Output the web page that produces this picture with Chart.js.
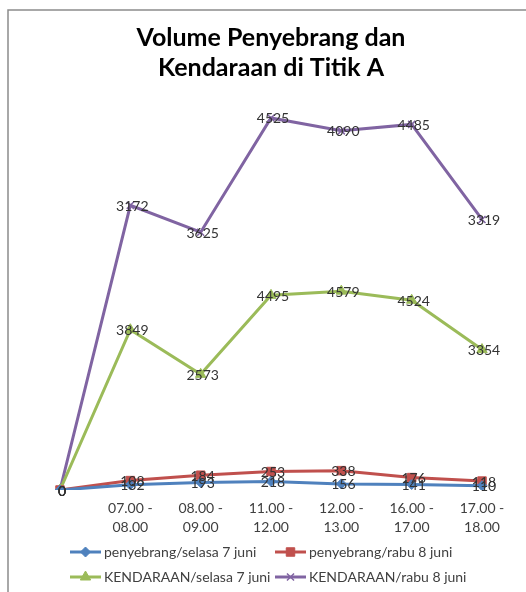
<!DOCTYPE html>
<html>
<head>
<meta charset="utf-8">
<title>Volume Penyebrang dan Kendaraan di Titik A</title>
<script src="https://cdn.jsdelivr.net/npm/chart.js@4/dist/chart.umd.min.js"></script>
<style>
    body { margin: 0; background: #fff; }
    canvas { display: block; }
</style>
</head>
<body>
<canvas id="volumeChart" width="526" height="592"></canvas>
<script>
// time slots (first slot is the empty start point)
const timeLabels = ['', ['07.00 -', '08.00'], ['08.00 -', '09.00'], ['11.00 -', '12.00'],
    ['12.00 -', '13.00'], ['16.00 -', '17.00'], ['17.00 -', '18.00']];

const penyebrangSelasa = [0, 132, 193, 218, 156, 141, 110];
const penyebrangRabu = [0, 108, 184, 253, 338, 176, 118];
const kendaraanSelasa = [0, 3849, 2573, 4495, 4579, 4524, 3354];
const kendaraanRabu = [0, 3172, 3625, 4525, 4090, 4485, 3319];

const seriesNames = ['penyebrang/selasa 7 juni', 'penyebrang/rabu 8 juni',
    'KENDARAAN/selasa 7 juni', 'KENDARAAN/rabu 8 juni'];

const blue = '#4f81bd';
const red = '#c0504d';
const green = '#9bbb59';
const purple = '#8064a2';
const textGray = '#404040';

function makeSeries(name, values, color, style, radius) {
    return {
        label: name,
        data: values,
        borderColor: color,
        backgroundColor: color,
        borderWidth: 3,
        pointStyle: style,
        pointRadius: radius,
        pointBorderWidth: style === 'crossRot' ? 1.5 : 1,
        pointBorderColor: color,
        pointBackgroundColor: color,
        tension: 0,
        fill: false
    };
}

// outer border of the chart box (top and left edges)
const frameLines = {
    id: 'frameLines',
    beforeDraw(chart) {
        const ctx = chart.ctx;
        ctx.save();
        ctx.strokeStyle = '#8c8c8c';
        ctx.lineWidth = 1.5;
        ctx.beginPath();
        ctx.moveTo(8, 592);
        ctx.lineTo(8, 10);
        ctx.lineTo(526, 10);
        ctx.stroke();
        ctx.restore();
    }
};

// value labels centred on each point
const pointValues = {
    id: 'pointValues',
    afterDatasetsDraw(chart) {
        const ctx = chart.ctx;
        ctx.save();
        ctx.font = '14px Lato';
        ctx.fillStyle = '#333';
        ctx.textAlign = 'center';
        ctx.textBaseline = 'middle';
        chart.data.datasets.forEach((ds, i) => {
            chart.getDatasetMeta(i).data.forEach((pt, j) => {
                ctx.fillText(String(ds.data[j]), pt.x + 2, pt.y + 1);
            });
        });
        ctx.restore();
    }
};

// two-column legend below the axis
const gridLegend = {
    id: 'gridLegend',
    afterDraw(chart) {
        const ctx = chart.ctx;
        const cols = [70, 275];
        const rows = [552, 577];
        ctx.save();
        ctx.font = '14px Lato';
        ctx.textBaseline = 'middle';
        chart.data.datasets.forEach((ds, i) => {
            const x = cols[i % 2];
            const y = rows[Math.floor(i / 2)];
            ctx.strokeStyle = ds.borderColor;
            ctx.fillStyle = ds.backgroundColor;
            ctx.lineWidth = 3;
            ctx.beginPath();
            ctx.moveTo(x, y);
            ctx.lineTo(x + 31, y);
            ctx.stroke();
            ctx.lineWidth = ds.pointBorderWidth;
            Chart.helpers.drawPoint(ctx, {
                pointStyle: ds.pointStyle,
                radius: ds.pointRadius,
                rotation: 0,
                borderWidth: ds.pointBorderWidth
            }, x + 15.5, y);
            ctx.fillStyle = textGray;
            ctx.fillText(ds.label, x + 34, y);
        });
        ctx.restore();
    }
};

new Chart(document.getElementById('volumeChart'), {
    type: 'line',
    data: {
        labels: timeLabels,
        datasets: [
            makeSeries(seriesNames[0], penyebrangSelasa, blue, 'rectRot', 5),
            makeSeries(seriesNames[1], penyebrangRabu, red, 'rect', 6),
            makeSeries(seriesNames[2], kendaraanSelasa, green, 'triangle', 6),
            makeSeries(seriesNames[3], kendaraanRabu, purple, 'crossRot', 5)
        ]
    },
    options: {
        responsive: false,
        animation: false,
        layout: { padding: { left: 60, right: 44, top: 0, bottom: 0 } },
        plugins: {
            legend: { display: false },
            tooltip: { enabled: false },
            title: {
                display: true,
                text: ['Volume Penyebrang dan', 'Kendaraan di Titik A'],
                color: '#000',
                font: { family: 'Lato', size: 25, weight: 'bold', lineHeight: 1.2 },
                padding: { top: 23, bottom: 15 }
            }
        },
        scales: {
            x: {
                offset: false,
                grid: { display: false, drawTicks: false },
                border: { display: false },
                ticks: {
                    color: textGray,
                    font: { family: 'Lato', size: 14, lineHeight: 1.35 },
                    padding: 9,
                    maxRotation: 0,
                    autoSkip: false
                },
                afterFit(scale) { scale.height = 102; }
            },
            y: {
                display: false,
                stacked: true,
                min: 0,
                max: 10000
            }
        }
    },
    plugins: [frameLines, pointValues, gridLegend]
});
</script>
</body>
</html>
